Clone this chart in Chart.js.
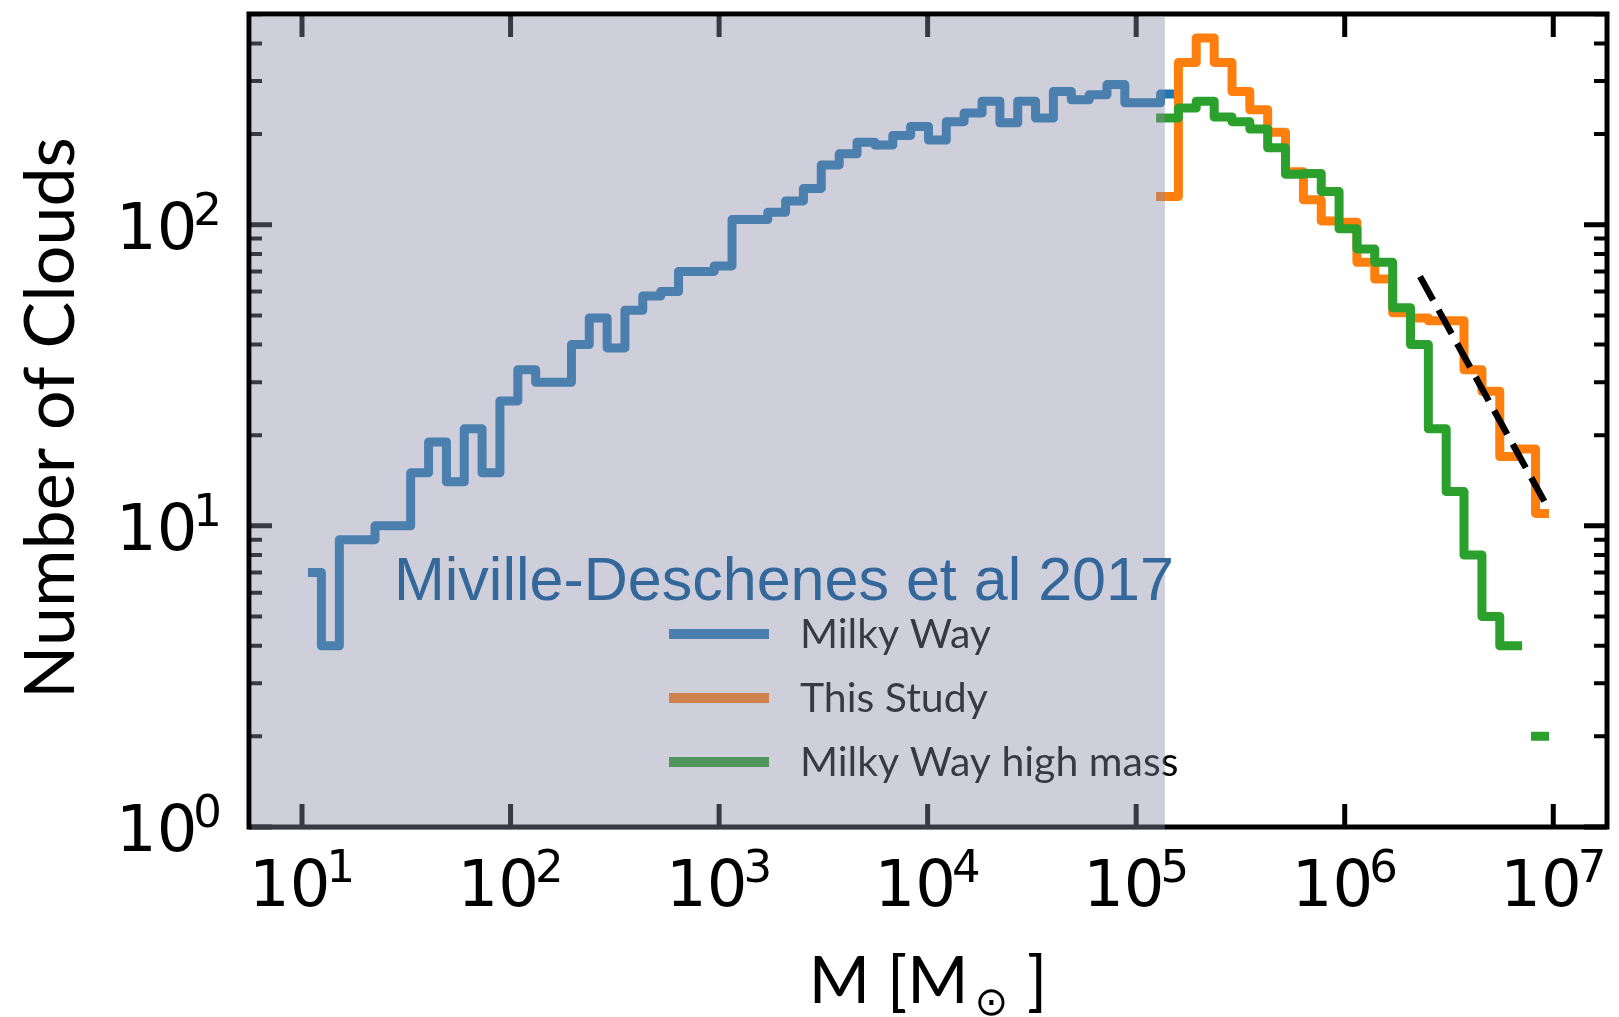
<!DOCTYPE html>
<html><head><meta charset="utf-8">
<script src="https://cdn.jsdelivr.net/npm/chart.js@4/dist/chart.umd.min.js"></script>
<style>html,body{margin:0;padding:0;background:#fff;overflow:hidden}canvas{display:block}</style>
</head><body>
<canvas id="c" width="1619" height="1017"></canvas>
<script>
// ---- data ----
// common log10(M) bin centres shared by all histograms
const binCenterLogM = [
 1.050,1.136,1.222,1.307,1.393,1.478,1.564,1.650,1.735,1.821,
 1.906,1.992,2.078,2.163,2.249,2.335,2.420,2.506,2.591,2.677,
 2.763,2.848,2.934,3.019,3.105,3.191,3.276,3.362,3.447,3.533,
 3.619,3.704,3.790,3.876,3.961,4.047,4.132,4.218,4.304,4.389,
 4.475,4.560,4.646,4.732,4.817,4.903,4.988,5.074,5.160,5.245,
 5.331,5.417,5.502,5.588,5.673,5.759,5.845,5.930,6.016,6.101,
 6.187,6.273,6.358,6.444,6.529,6.615,6.701,6.786,6.872,6.958];
// Milky Way (Miville-Deschenes et al 2017), bins 0..48
const milkyWayStart = 0;
const milkyWayCounts = [7,4,9,9,10,10,15,19,14,21,15,26,33,30,30,40,49,39,52,58,
 60,70,70,73,104,104,110,120,132,158,172,188,184,198,212,191,220,235,257,218,
 257,226,277,260,270,292,254,254,272];
// This Study, bins 47..69
const thisStudyStart = 47;
const thisStudyCounts = [0,124,346,417,346,277,241,203,150,121,103,102,75,66,51,49,48,48,33,28,17,18,11];
// Milky Way high mass, bins 47..69
const highMassStart = 47;
const highMassCounts = [0,226,244,257,228,220,208,180,147,148,129,97,83,75,53,40,21,13,8,5,4,0,2];
// power-law fit (dashed)
const fitLogM = [6.361, 6.962];
const fitCounts = [67.3, 11.9];
// axes
const xTickExps = [1,2,3,4,5,6,7];
const yTickExps = [0,1,2];
const shadeMaxM = 1.373e5;
const seriesNames = ['Milky Way','This Study','Milky Way high mass'];
const seriesColors = ['#1f77b4','#ff7f0e','#2ca02c'];

// build matplotlib-like "steps-mid" vertices
function stepsMid(start, counts){
  const pts=[]; const n=counts.length;
  for(let i=0;i<n;i++){
    const k=start+i, c=counts[i];
    if(!(c>0)){ pts.push({x:Math.pow(10,binCenterLogM[k]), y:null}); continue; }
    const lo = i===0 ? binCenterLogM[k] : (binCenterLogM[k-1]+binCenterLogM[k])/2;
    const hi = i===n-1 ? binCenterLogM[k] : (binCenterLogM[k]+binCenterLogM[k+1])/2;
    pts.push({x:Math.pow(10,lo), y:c},{x:Math.pow(10,hi), y:c});
  }
  return pts;
}
const stepDs = (label,data,color,order)=>({label,data,borderColor:color,backgroundColor:color,
  borderWidth:9,pointRadius:0,borderJoinStyle:'round',borderCapStyle:'square',tension:0,fill:false,order});

const deco = {
  id:'deco',
  afterDatasetsDraw(chart){
    const ctx=chart.ctx, X=chart.scales.x, Y=chart.scales.y, ca=chart.chartArea;
    const L=ca.left, R=ca.right, T=ca.top, B=ca.bottom;
    ctx.save();
    // ticks
    ctx.strokeStyle='#000'; ctx.lineCap='butt';
    ctx.lineWidth=5;
    xTickExps.forEach(e=>{ const px=X.getPixelForValue(Math.pow(10,e));
      ctx.beginPath(); ctx.moveTo(px,B); ctx.lineTo(px,B-23); ctx.moveTo(px,T); ctx.lineTo(px,T+23); ctx.stroke(); });
    yTickExps.forEach(e=>{ const py=Y.getPixelForValue(Math.pow(10,e));
      ctx.beginPath(); ctx.moveTo(L,py); ctx.lineTo(L+23,py); ctx.moveTo(R,py); ctx.lineTo(R-23,py); ctx.stroke(); });
    ctx.lineWidth=4;
    yTickExps.forEach(e=>{ for(let m=2;m<=9;m++){ const v=m*Math.pow(10,e); if(v>=Y.max) continue;
      const py=Y.getPixelForValue(v);
      ctx.beginPath(); ctx.moveTo(L,py); ctx.lineTo(L+13,py); ctx.moveTo(R,py); ctx.lineTo(R-13,py); ctx.stroke(); }});
    // spines
    ctx.lineWidth=5; ctx.strokeRect(L,T,R-L,B-T);
    // legend
    const ly=[634,698,762];
    seriesNames.forEach((n,i)=>{
      ctx.strokeStyle=seriesColors[i]; ctx.lineWidth=10; ctx.lineCap='butt';
      ctx.beginPath(); ctx.moveTo(669,ly[i]); ctx.lineTo(769,ly[i]); ctx.stroke();
      ctx.fillStyle='#000'; ctx.font='41px Lato'; ctx.textBaseline='alphabetic'; ctx.textAlign='left';
      ctx.fillText(n,800,ly[i]+14);
    });
    // shaded region (drawn over)
    const sx=X.getPixelForValue(shadeMaxM);
    ctx.fillStyle='rgba(137,139,164,0.41)';
    ctx.fillRect(L+2.5,T+2.5,sx-L-2.5,B-T+0.5);
    // annotation
    ctx.fillStyle='#34689b'; ctx.font='61px "Liberation Sans"'; ctx.textAlign='left';
    ctx.fillText('Miville-Deschenes et al 2017',394,600);
    // tick labels
    ctx.fillStyle='#000';
    const big='64px "DejaVu Sans"', sup='45px "DejaVu Sans"';
    function lab(e){ ctx.font=big; const w1=ctx.measureText('10').width; ctx.font=sup; const w2=ctx.measureText(String(e)).width; return {w1,w2,tot:w1+w2-4}; }
    xTickExps.forEach(e=>{ const px=X.getPixelForValue(Math.pow(10,e)); const m=lab(e);
      const x0=px-m.tot/2; ctx.textAlign='left';
      ctx.font=big; ctx.fillText('10',x0,906); ctx.font=sup; ctx.fillText(String(e),x0+m.w1-4,882); });
    yTickExps.forEach(e=>{ const py=Y.getPixelForValue(Math.pow(10,e)); const m=lab(e);
      const x0=222-m.tot; ctx.textAlign='left';
      ctx.font=big; ctx.fillText('10',x0,py+24); ctx.font=sup; ctx.fillText(String(e),x0+m.w1-4,py); });
    // axis titles
    ctx.save(); ctx.translate(74,418); ctx.rotate(-Math.PI/2);
    ctx.font='70px Lato'; ctx.textAlign='center'; ctx.fillText('Number of Clouds',0,0); ctx.restore();
    const runs=[{t:'M [M',f:'66px Lato',dy:0,gap:0},{t:'\u2299',f:'40px "DejaVu Sans"',dy:12,gap:6},{t:' ]',f:'66px Lato',dy:0,gap:2}];
    let tw=0; runs.forEach(r=>{ctx.font=r.f; r.w=ctx.measureText(r.t).width; tw+=r.w+r.gap;});
    let cx=(L+R)/2-tw/2; ctx.textAlign='left';
    runs.forEach(r=>{ cx+=r.gap; ctx.font=r.f; ctx.fillText(r.t,cx,1003+r.dy); cx+=r.w; });
    ctx.restore();
  }
};

new Chart(document.getElementById('c'),{
  type:'line',
  data:{datasets:[
    {label:'fit',data:fitLogM.map((l,i)=>({x:Math.pow(10,l),y:fitCounts[i]})),borderColor:'#000',borderWidth:6.5,
     borderDash:[27,11.3],pointRadius:0,borderCapStyle:'butt',fill:false,order:0},
    stepDs(seriesNames[2],stepsMid(highMassStart,highMassCounts),seriesColors[2],1),
    stepDs(seriesNames[1],stepsMid(thisStudyStart,thisStudyCounts),seriesColors[1],2),
    stepDs(seriesNames[0],stepsMid(milkyWayStart,milkyWayCounts),seriesColors[0],3)
  ]},
  options:{
    responsive:false,animation:false,
    layout:{padding:{left:249,right:12,top:14,bottom:190}},
    plugins:{legend:{display:false},tooltip:{enabled:false}},
    scales:{
      x:{type:'logarithmic',min:5.569,max:1.81e7,display:false},
      y:{type:'logarithmic',min:1,max:501,display:false}
    }
  },
  plugins:[deco]
});
</script>
</body></html>
